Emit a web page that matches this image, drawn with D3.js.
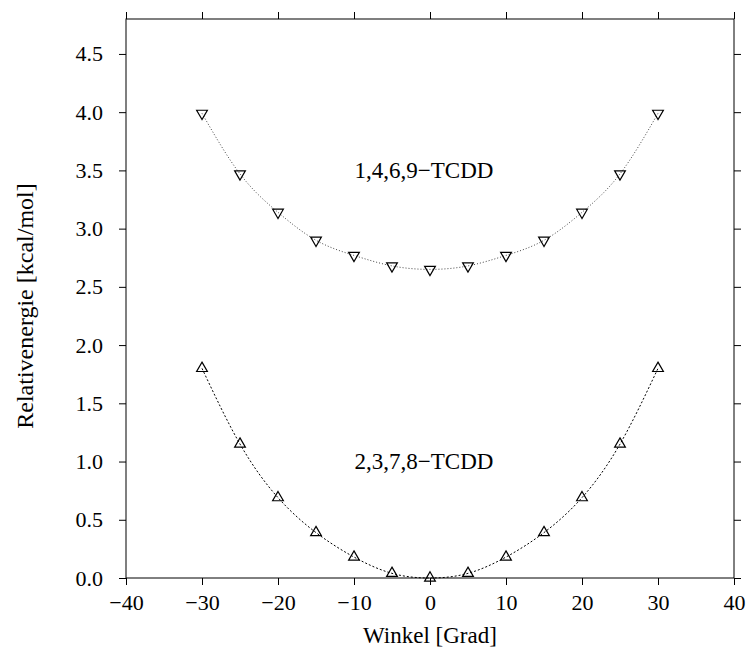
<!DOCTYPE html>
<html>
<head>
<meta charset="utf-8">
<script src="https://cdn.jsdelivr.net/npm/d3@7"></script>
<style>
body { margin: 0; background: #fff; }
text { font-family: "Liberation Serif", "Times New Roman", serif; fill: #000; }
</style>
</head>
<body>
<svg width="748" height="652"></svg>
<script>
var winkel = [-30, -25, -20, -15, -10, -5, 0, 5, 10, 15, 20, 25, 30];
var energie1469 = [3.99, 3.47, 3.14, 2.90, 2.77, 2.68, 2.65, 2.68, 2.77, 2.90, 3.14, 3.47, 3.99];
var energie2378 = [1.80, 1.15, 0.69, 0.39, 0.18, 0.04, 0.00, 0.04, 0.18, 0.39, 0.69, 1.15, 1.80];
var xTicks = [-40, -30, -20, -10, 0, 10, 20, 30, 40];
var yTicks = [0, 0.5, 1.0, 1.5, 2.0, 2.5, 3.0, 3.5, 4.0, 4.5];

var svg = d3.select('svg');
var pLeft = 126, pRight = 734, pTop = 19, pBottom = 578;

var x = d3.scaleLinear().domain([-40, 40]).range([pLeft, pRight]);
var y = d3.scaleLinear().domain([0, 4.8]).range([pBottom, pTop]);

// ticks, all outward
svg.append("g").attr("transform", "translate(0," + pBottom + ")")
    .call(d3.axisBottom(x).tickValues(xTicks).tickSize(7).tickPadding(9).tickFormat(d3.format("d")));
svg.append("g").attr("transform", "translate(0," + pTop + ")")
    .call(d3.axisTop(x).tickValues(xTicks).tickSize(7).tickFormat(""));
svg.append("g").attr("transform", "translate(" + pLeft + ",0)")
    .call(d3.axisLeft(y).tickValues(yTicks).tickSize(7).tickPadding(16).tickFormat(d3.format(".1f")));
svg.append("g").attr("transform", "translate(" + pRight + ",0)")
    .call(d3.axisRight(y).tickValues(yTicks).tickSize(7).tickFormat(""));

svg.selectAll(".domain").remove();
svg.selectAll(".tick line").attr("stroke", "#000");
svg.selectAll(".tick text")
    .style("font-family", "Liberation Serif, serif")
    .style("font-size", "22px")
    .text(function () { return d3.select(this).text().replace("-", "\u2212"); });

svg.append("rect")
    .attr("x", pLeft).attr("y", pTop)
    .attr("width", pRight - pLeft).attr("height", pBottom - pTop)
    .attr("fill", "none").attr("stroke", "#000").attr("stroke-width", 1);

var line = d3.line()
    .x(function (d) { return x(d[0]); })
    .y(function (d) { return y(d[1]); })
    .curve(d3.curveNatural);

var d1 = winkel.map(function (w, i) { return [w, energie1469[i]]; });
var d2 = winkel.map(function (w, i) { return [w, energie2378[i]]; });

svg.append("path").datum(d1).attr("d", line)
    .attr("fill", "none").attr("stroke", "#444").attr("stroke-width", 1)
    .attr("stroke-dasharray", "1,2");
svg.append("path").datum(d2).attr("d", line)
    .attr("fill", "none").attr("stroke", "#000").attr("stroke-width", 1)
    .attr("stroke-dasharray", "2,2");

var tri = d3.symbol().type(d3.symbolTriangle).size(50);

svg.selectAll(".m1").data(d1).enter().append("path")
    .attr("class", "m1")
    .attr("d", tri)
    .attr("transform", function (d) { return "translate(" + x(d[0]) + "," + y(d[1]) + ") rotate(180)"; })
    .attr("fill", "none").attr("stroke", "#000").attr("stroke-width", 1.2);

svg.selectAll(".m2").data(d2).enter().append("path")
    .attr("class", "m2")
    .attr("d", tri)
    .attr("transform", function (d) { return "translate(" + x(d[0]) + "," + y(d[1]) + ")"; })
    .attr("fill", "none").attr("stroke", "#000").attr("stroke-width", 1.2);

svg.append("text").attr("x", 424).attr("y", 178)
    .attr("text-anchor", "middle").style("font-size", "23px")
    .text("1,4,6,9\u2212TCDD");
svg.append("text").attr("x", 424).attr("y", 469)
    .attr("text-anchor", "middle").style("font-size", "23px")
    .text("2,3,7,8\u2212TCDD");

svg.append("text").attr("x", 430).attr("y", 643)
    .attr("text-anchor", "middle").style("font-size", "23px")
    .text("Winkel [Grad]");
svg.append("text")
    .attr("transform", "translate(33," + 306 + ") rotate(-90)")
    .attr("text-anchor", "middle").style("font-size", "24px")
    .text("Relativenergie [kcal/mol]");
</script>
</body>
</html>
